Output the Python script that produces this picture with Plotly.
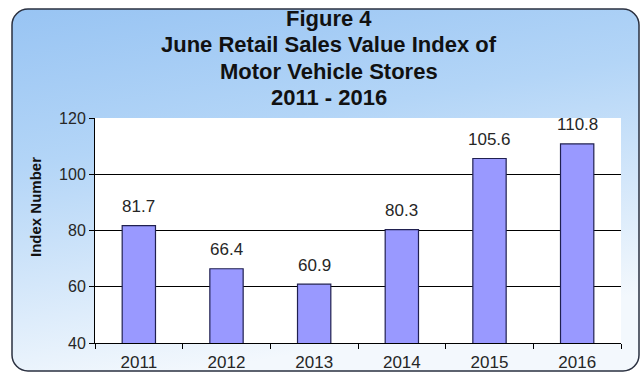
import base64
import plotly.graph_objects as go

# ---- data ----
years = ["2011", "2012", "2013", "2014", "2015", "2016"]
values = [81.7, 66.4, 60.9, 80.3, 105.6, 110.8]
value_labels = ["81.7", "66.4", "60.9", "80.3", "105.6", "110.8"]
y_ticks = [40, 60, 80, 100, 120]
title_lines = ["Figure 4", "June Retail Sales Value Index of", "Motor Vehicle Stores", "2011 - 2016"]
y_title = "Index Number"

W, H = 643, 375
L, R, T, B = 95, 22, 118, 32
pw, ph = W - L - R, H - T - B

def px_x(px):
    return (px - L) / pw

def px_y(py):
    return (H - B - py) / ph

# background rounded box with gradient (decoration)
bx0, by0, bx1, by1 = 11, 8, 640, 372
bw, bh = bx1 - bx0, by1 - by0
svg = f'''<svg xmlns="http://www.w3.org/2000/svg" width="{bw}" height="{bh}" viewBox="0 0 {bw} {bh}">
<defs><linearGradient id="g" x1="0" y1="0" x2="0.3" y2="1">
<stop offset="0" stop-color="#98c4f3"/><stop offset="0.4" stop-color="#b3d5f7"/>
<stop offset="1" stop-color="#f3f8fd"/></linearGradient></defs>
<rect x="1" y="1" width="{bw-2}" height="{bh-2}" rx="16" ry="16" fill="url(#g)" stroke="#2a3040" stroke-width="1.5"/>
</svg>'''
src = "data:image/svg+xml;base64," + base64.b64encode(svg.encode()).decode()

fig = go.Figure()
fig.add_trace(go.Bar(
    x=years, y=values,
    marker=dict(color="#9999ff", line=dict(color="#202050", width=1.2)),
    width=0.38, hoverinfo="skip",
))

annotations = []
for i, (v, lab) in enumerate(zip(values, value_labels)):
    annotations.append(dict(x=i, y=v, text=lab, showarrow=False, yshift=19,
                            font=dict(family="Liberation Sans, Arial", size=17, color="#262626")))

title_y = [18, 45, 71, 97]
for line, ty in zip(title_lines, title_y):
    annotations.append(dict(xref="paper", yref="paper", x=px_x(329), y=px_y(ty), text=f"<b>{line}</b>",
                            showarrow=False, xanchor="center", yanchor="middle",
                            font=dict(family="Liberation Sans, Arial", size=22, color="#111111")))

annotations.append(dict(xref="paper", yref="paper", x=px_x(35), y=px_y(207), text=f"<b>{y_title}</b>",
                        textangle=-90, showarrow=False, xanchor="center", yanchor="middle",
                        font=dict(family="Liberation Sans, Arial", size=15, color="#111111")))

fig.update_layout(
    width=W, height=H,
    margin=dict(l=L, r=R, t=T, b=B, autoexpand=False),
    paper_bgcolor="white", plot_bgcolor="white",
    showlegend=False,
    annotations=annotations,
    images=[dict(source=src, xref="paper", yref="paper", x=px_x(bx0), y=px_y(by0),
                 sizex=bw / pw, sizey=bh / ph, sizing="stretch", xanchor="left", yanchor="top",
                 layer="below")],
    shapes=[dict(type="rect", xref="paper", yref="paper", x0=0, x1=1, y0=0, y1=1,
                 fillcolor="white", line=dict(width=0), layer="below")],
    xaxis=dict(
        type="category", automargin=False, tickangle=0, range=[-0.5, len(years) - 0.5],
        showline=True, linecolor="black", linewidth=1,
        ticks="outside", ticklen=5, tickcolor="black", tickson="boundaries",
        ticklabelstandoff=4,
        tickfont=dict(family="Liberation Sans, Arial", size=17, color="#262626"),
        showgrid=False, fixedrange=True,
    ),
    yaxis=dict(
        range=[40, 120], tickvals=y_ticks, automargin=False,
        showline=True, linecolor="black", linewidth=1,
        ticks="outside", ticklen=5, tickcolor="black", ticksuffix=" ",
        showgrid=True, gridcolor="black", gridwidth=1,
        tickfont=dict(family="Liberation Sans, Arial", size=16, color="#262626"),
        zeroline=False, fixedrange=True,
    ),
)

fig.write_html("out.html")
